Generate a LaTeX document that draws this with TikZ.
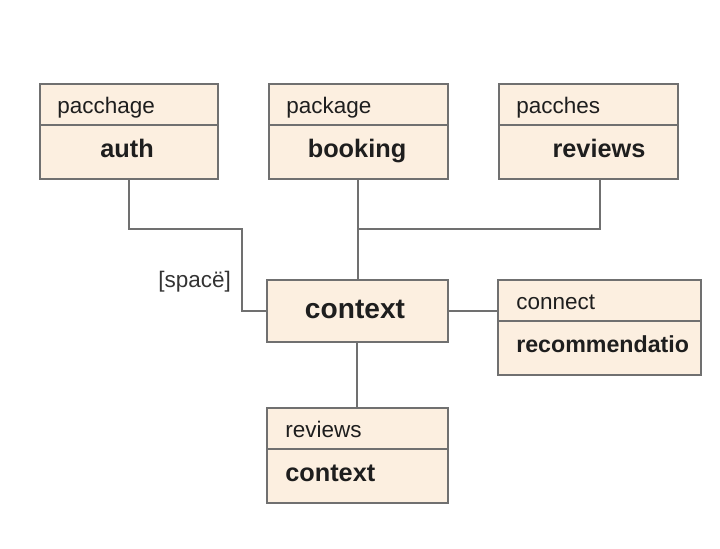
\documentclass[tikz,border=0pt]{standalone}
\usepackage{fontspec}
\setmainfont{Liberation Sans}
\usetikzlibrary{calc}
\definecolor{pkgFill}{HTML}{FCEFE0}
\definecolor{pkgLine}{HTML}{707070}
\definecolor{pkgText}{HTML}{1E1E1E}

\begin{document}
\begin{tikzpicture}[x=0.025cm, y=-0.025cm,
  pkg/.style={draw=pkgLine, fill=pkgFill, line width=1.1pt, anchor=north west, inner sep=0pt},
  hdr/.style={anchor=base west, inner sep=0pt, text=pkgText, font=\fontsize{16}{18}\selectfont},
  body/.style={anchor=base, inner sep=0pt, text=pkgText, font=\fontsize{18}{20}\selectfont\bfseries},
  wire/.style={draw=pkgLine, line width=1.4pt}]
  \useasboundingbox (0,0) rectangle (720,548);
  % package boxes
  \node[pkg, minimum width=4.45cm,  minimum height=2.375cm] (auth)    at (39,83)   {};
  \node[pkg, minimum width=4.475cm, minimum height=2.375cm] (booking) at (268,83)  {};
  \node[pkg, minimum width=4.475cm, minimum height=2.375cm] (revtop)  at (498,83)  {};
  \node[pkg, minimum width=4.525cm, minimum height=1.55cm]  (ctx)     at (266,279) {};
  \node[pkg, minimum width=5.075cm, minimum height=2.375cm] (rec)     at (497,279) {};
  \node[pkg, minimum width=4.525cm, minimum height=2.375cm] (bot)     at (266,407) {};
  \foreach \b in {auth,booking,revtop,rec,bot}
    \draw[pkgLine, line width=1.1pt] ($(\b.north west)+(0,42)$) -- ($(\b.north east)+(0,42)$);
  % headers
  \node[hdr] (authH)    at (57,113)  {pacchage};
  \node[hdr] (bookingH) at (286,113) {package};
  \node[hdr] (revtopH)  at (516,113) {pacches};
  \node[hdr] (recH)     at (516,309) {connect};
  \node[hdr] (botH)     at (285,437) {reviews};
  % names
  \node[body] (authB)    at (127,157) {auth};
  \node[body] (bookingB) at (357,157) {booking};
  \node[body] (revtopB)  at (599,157) {reviews};
  \node[body, font=\fontsize{20}{22}\selectfont\bfseries] (ctxB) at (355,318) {context};
  \node[body, anchor=base west, font=\fontsize{16.5}{18}\selectfont\bfseries] (recB) at (516,352) {recommendatio};
  \node[body, anchor=base west] (botB) at (285,481) {context};
  \node[hdr, text=black!80] (spaceL) at (158,287) {[spacë]};
  % connectors
  \coordinate (kneeA) at (242,229);
  \coordinate (tee) at (booking.south |- kneeA);
  \draw[wire] (auth.south) |- (kneeA) |- (ctx.west);
  \draw[wire] (booking.south) -- (booking.south |- ctx.north);
  \draw[wire] (tee) -| ([xshift=0.29cm]revtop.south);
  \draw[wire] (ctx.east) -- (ctx.east -| rec.west);
  \draw[wire] (ctx.south) -- (ctx.south |- bot.north);
\end{tikzpicture}
\end{document}
